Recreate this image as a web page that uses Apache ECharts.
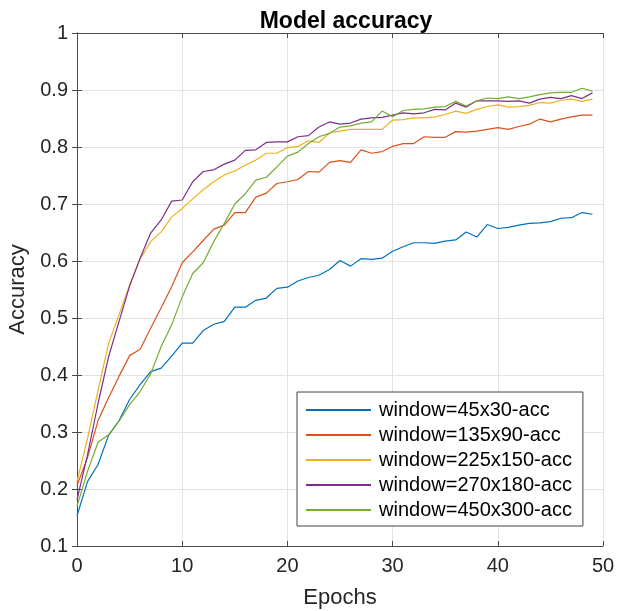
<!DOCTYPE html>
<html>
<head>
<meta charset="utf-8">
<script src="https://cdn.jsdelivr.net/npm/echarts/dist/echarts.min.js"></script>
<style>
  html, body { margin: 0; padding: 0; background: #fff; }
  #chart { width: 619px; height: 611px; }
</style>
</head>
<body>
<div id="chart"></div>
<script>
const epochs = [0,1,2,3,4,5,6,7,8,9,10,11,12,13,14,15,16,17,18,19,20,21,22,23,24,25,26,27,28,29,30,31,32,33,34,35,36,37,38,39,40,41,42,43,44,45,46,47,48,49];

const seriesNames = [
  'window=45x30-acc',
  'window=135x90-acc',
  'window=225x150-acc',
  'window=270x180-acc',
  'window=450x300-acc'
];

const acc45x30 = [0.153,0.213,0.243,0.294,0.320,0.357,0.383,0.406,0.412,0.433,0.456,0.456,0.478,0.489,0.494,0.519,0.519,0.531,0.535,0.552,0.554,0.565,0.571,0.575,0.585,0.601,0.591,0.604,0.603,0.605,0.617,0.625,0.632,0.632,0.631,0.635,0.637,0.651,0.642,0.664,0.657,0.659,0.663,0.666,0.667,0.669,0.675,0.676,0.685,0.682];

const acc135x90 = [0.206,0.255,0.320,0.360,0.398,0.434,0.445,0.482,0.518,0.555,0.597,0.616,0.636,0.656,0.663,0.685,0.685,0.712,0.719,0.736,0.739,0.743,0.757,0.756,0.773,0.776,0.773,0.795,0.789,0.792,0.801,0.806,0.806,0.818,0.817,0.817,0.827,0.826,0.828,0.831,0.834,0.831,0.836,0.840,0.849,0.844,0.849,0.853,0.856,0.856];

const acc225x150 = [0.213,0.289,0.373,0.455,0.506,0.558,0.603,0.634,0.651,0.677,0.692,0.709,0.725,0.739,0.751,0.758,0.768,0.777,0.789,0.789,0.799,0.801,0.811,0.808,0.825,0.828,0.831,0.831,0.831,0.831,0.847,0.848,0.851,0.851,0.853,0.857,0.863,0.859,0.866,0.871,0.874,0.870,0.871,0.873,0.878,0.877,0.882,0.884,0.880,0.884];

const acc270x180 = [0.181,0.260,0.350,0.432,0.494,0.556,0.605,0.649,0.672,0.705,0.707,0.739,0.757,0.760,0.770,0.777,0.794,0.795,0.808,0.809,0.809,0.818,0.820,0.835,0.844,0.840,0.842,0.849,0.851,0.852,0.856,0.860,0.858,0.860,0.866,0.865,0.877,0.870,0.881,0.881,0.881,0.880,0.881,0.877,0.884,0.887,0.885,0.890,0.885,0.895];

const acc450x300 = [0.170,0.231,0.282,0.295,0.319,0.348,0.371,0.402,0.450,0.488,0.537,0.578,0.597,0.634,0.666,0.700,0.718,0.742,0.747,0.765,0.784,0.791,0.806,0.818,0.824,0.835,0.837,0.842,0.844,0.863,0.853,0.864,0.866,0.867,0.870,0.871,0.880,0.872,0.881,0.886,0.885,0.888,0.885,0.888,0.892,0.895,0.896,0.896,0.903,0.898];

const seriesValues = [acc45x30, acc135x90, acc225x150, acc270x180, acc450x300];
const colors = ['#0072BD', '#D95319', '#EDB120', '#7E2F8E', '#77AC30'];

const FONT = '"Liberation Sans", Arial, Helvetica, sans-serif';
const AXIS_COLOR = '#4a4a4a';
const TEXT_COLOR = '#262626';

const chart = echarts.init(document.getElementById('chart'), null, { renderer: 'canvas' });

const fmt = v => String(+v.toFixed(1));

const commonAxisLine = { show: true, lineStyle: { color: AXIS_COLOR, width: 1 } };
const commonTick = { show: true, inside: true, length: 5, lineStyle: { color: AXIS_COLOR, width: 1 } };

const option = {
  backgroundColor: '#fff',
  animation: false,
  color: colors,
  title: {
    text: 'Model accuracy',
    left: 341,
    textAlign: 'center',
    top: 5,
    textStyle: { fontFamily: FONT, fontSize: 23, fontWeight: 'bold', color: '#000' }
  },
  grid: { left: 77, right: 16, top: 33, bottom: 65, containLabel: false, outerBoundsMode: 'none' },
  legend: {
    orient: 'vertical',
    left: 297,
    top: 392,
    padding: [8, 11, 6, 9],
    itemWidth: 65,
    itemHeight: 2,
    itemGap: 5,
    icon: 'rect',
    borderColor: '#444',
    borderWidth: 1,
    backgroundColor: '#fff',
    data: seriesNames,
    textStyle: { fontFamily: FONT, fontSize: 20, color: '#000', lineHeight: 20, padding: [0, 0, 0, 3] }
  },
  xAxis: [
    {
      type: 'value', min: 0, max: 50, interval: 10,
      name: 'Epochs', nameLocation: 'middle', nameGap: 41,
      nameTextStyle: { fontFamily: FONT, fontSize: 22, color: TEXT_COLOR },
      axisLine: commonAxisLine, axisTick: commonTick,
      axisLabel: { fontFamily: FONT, fontSize: 20, color: TEXT_COLOR, margin: 10, formatter: fmt },
      splitLine: { show: true, lineStyle: { color: '#e3e3e3', width: 1 } }
    },
    {
      type: 'value', min: 0, max: 50, interval: 10, position: 'top',
      axisLine: commonAxisLine, axisTick: commonTick,
      axisLabel: { show: false }, splitLine: { show: false }
    }
  ],
  yAxis: [
    {
      type: 'value', min: 0.1, max: 1, interval: 0.1,
      name: 'Accuracy', nameLocation: 'middle', nameGap: 40,
      nameTextStyle: { fontFamily: FONT, fontSize: 22, color: TEXT_COLOR },
      axisLine: commonAxisLine, axisTick: commonTick,
      axisLabel: { fontFamily: FONT, fontSize: 20, color: TEXT_COLOR, margin: 9, formatter: fmt },
      splitLine: { show: true, lineStyle: { color: '#e3e3e3', width: 1 } }
    },
    {
      type: 'value', min: 0.1, max: 1, interval: 0.1, position: 'right',
      axisLine: commonAxisLine, axisTick: commonTick,
      axisLabel: { show: false }, splitLine: { show: false }
    }
  ],
  series: seriesNames.map((name, i) => ({
    name: name,
    type: 'line',
    xAxisIndex: 0,
    yAxisIndex: 0,
    data: epochs.map((e, j) => [e, seriesValues[i][j]]),
    showSymbol: false,
    symbol: 'none',
    lineStyle: { width: 1.2, color: colors[i] },
    itemStyle: { color: colors[i] }
  }))
};

chart.setOption(option);
</script>
</body>
</html>
